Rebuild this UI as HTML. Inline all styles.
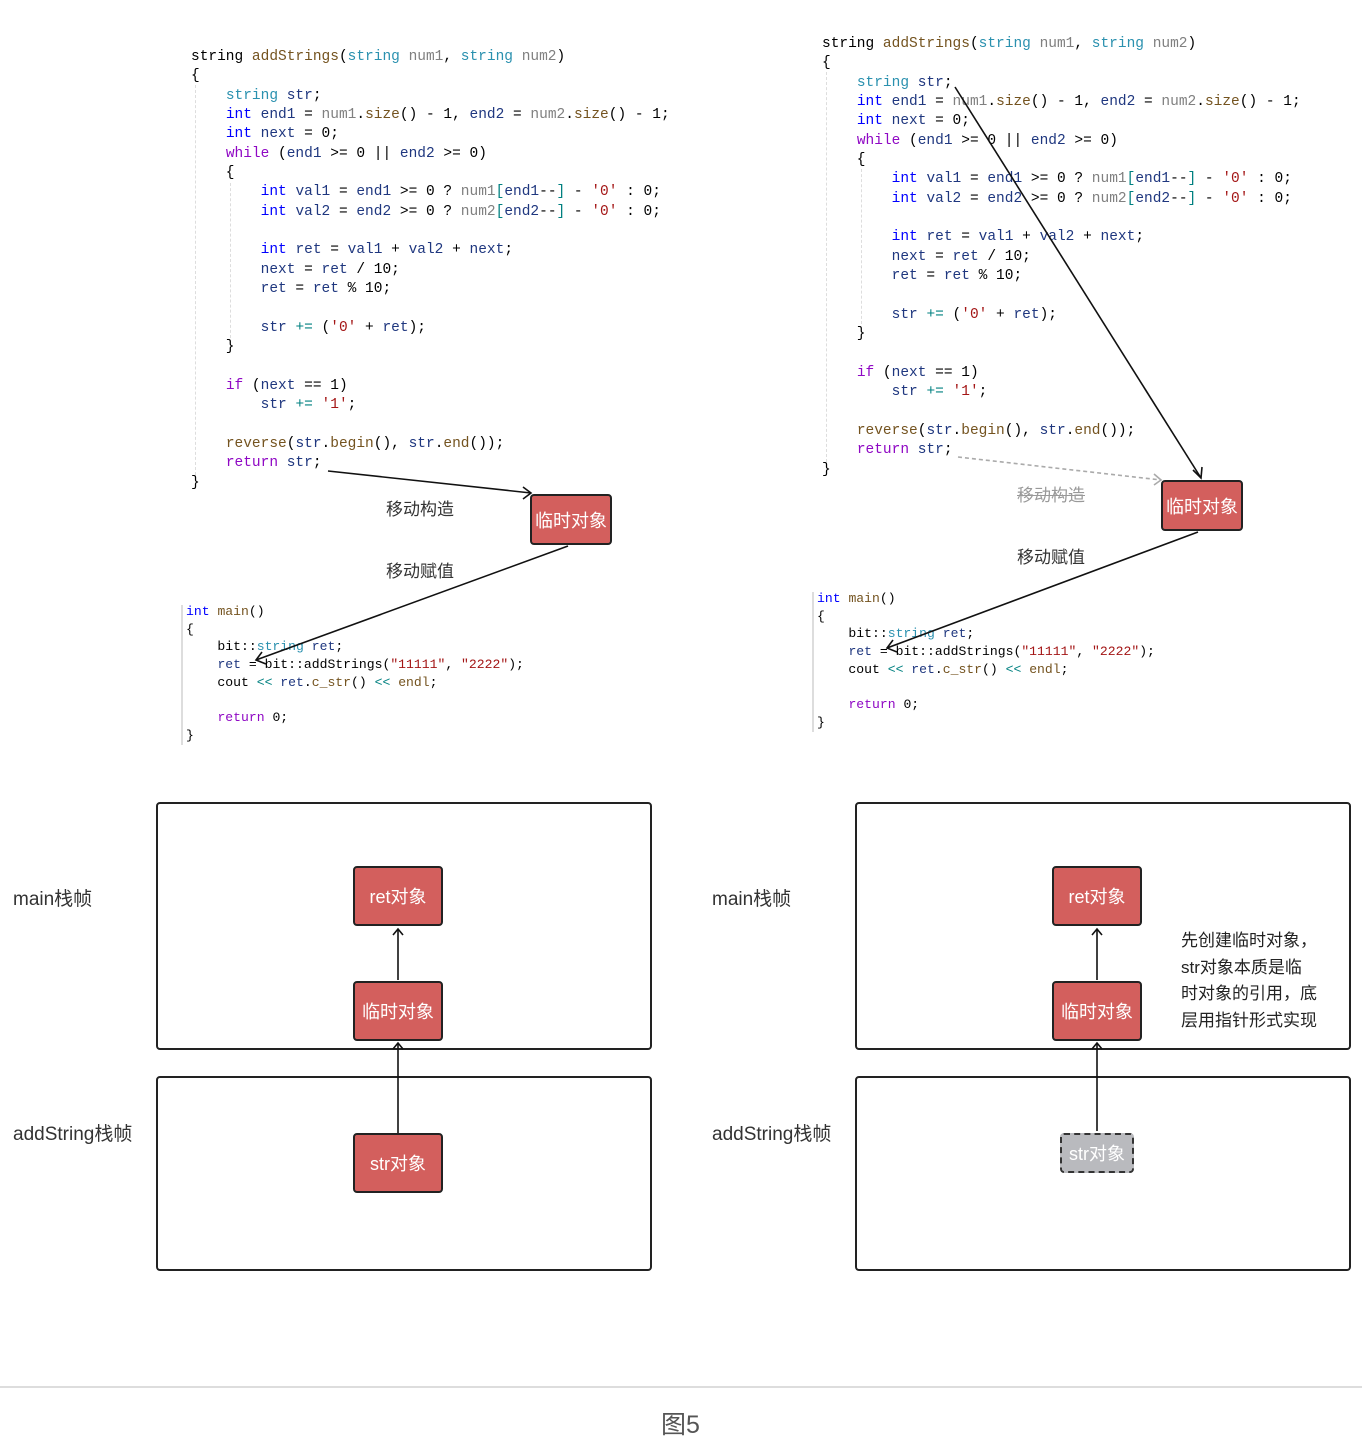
<!DOCTYPE html>
<html><head><meta charset="utf-8"><style>
body{margin:0;width:1362px;height:1442px;background:#fff;position:relative;overflow:hidden;font-family:"Liberation Sans","Noto Sans CJK SC",sans-serif}
pre{margin:0;position:absolute;font-family:"Liberation Mono",monospace;color:#000}
.f{font-size:14.5px;line-height:19.35px}
.m{font-size:13.1px;line-height:17.7px}
.t{color:#2b91af}.k{color:#0000ff}.c{color:#8f08c4}.fn{color:#74531f}.p{color:#808080}.s{color:#a31515}.v{color:#1f377f}.o{color:#008080}
.box{position:absolute;background:#d35f5d;border:2px solid #222;border-radius:4px;box-sizing:border-box;color:#fff;font-size:18px;display:flex;align-items:center;justify-content:center;font-family:"Liberation Sans","Noto Sans CJK SC",sans-serif}
.frame{position:absolute;border:2px solid #222;border-radius:4px;box-sizing:border-box}
.lbl{position:absolute;font-size:19px;color:#333;white-space:nowrap}
.guide{position:absolute;border-left:1px dashed #ddd}
.mg{position:absolute;border-left:2px solid #ddd}
</style></head><body>

<pre class="f" style="left:191px;top:48px"><span>string</span> <span class="fn">addStrings</span>(<span class="t">string</span> <span class="p">num1</span>, <span class="t">string</span> <span class="p">num2</span>)
{
    <span class="t">string</span> <span class="v">str</span>;
    <span class="k">int</span> <span class="v">end1</span> = <span class="p">num1</span>.<span class="fn">size</span>() - 1, <span class="v">end2</span> = <span class="p">num2</span>.<span class="fn">size</span>() - 1;
    <span class="k">int</span> <span class="v">next</span> = 0;
    <span class="c">while</span> (<span class="v">end1</span> &gt;= 0 || <span class="v">end2</span> &gt;= 0)
    {
        <span class="k">int</span> <span class="v">val1</span> = <span class="v">end1</span> &gt;= 0 ? <span class="p">num1</span><span class="o">[</span><span class="v">end1</span>--<span class="o">]</span> - <span class="s">'0'</span> : 0;
        <span class="k">int</span> <span class="v">val2</span> = <span class="v">end2</span> &gt;= 0 ? <span class="p">num2</span><span class="o">[</span><span class="v">end2</span>--<span class="o">]</span> - <span class="s">'0'</span> : 0;

        <span class="k">int</span> <span class="v">ret</span> = <span class="v">val1</span> + <span class="v">val2</span> + <span class="v">next</span>;
        <span class="v">next</span> = <span class="v">ret</span> / 10;
        <span class="v">ret</span> = <span class="v">ret</span> % 10;

        <span class="v">str</span> <span class="o">+=</span> (<span class="s">'0'</span> + <span class="v">ret</span>);
    }

    <span class="c">if</span> (<span class="v">next</span> == 1)
        <span class="v">str</span> <span class="o">+=</span> <span class="s">'1'</span>;

    <span class="fn">reverse</span>(<span class="v">str</span>.<span class="fn">begin</span>(), <span class="v">str</span>.<span class="fn">end</span>());
    <span class="c">return</span> <span class="v">str</span>;
}</pre>

<pre class="f" style="left:822px;top:35px"><span>string</span> <span class="fn">addStrings</span>(<span class="t">string</span> <span class="p">num1</span>, <span class="t">string</span> <span class="p">num2</span>)
{
    <span class="t">string</span> <span class="v">str</span>;
    <span class="k">int</span> <span class="v">end1</span> = <span class="p">num1</span>.<span class="fn">size</span>() - 1, <span class="v">end2</span> = <span class="p">num2</span>.<span class="fn">size</span>() - 1;
    <span class="k">int</span> <span class="v">next</span> = 0;
    <span class="c">while</span> (<span class="v">end1</span> &gt;= 0 || <span class="v">end2</span> &gt;= 0)
    {
        <span class="k">int</span> <span class="v">val1</span> = <span class="v">end1</span> &gt;= 0 ? <span class="p">num1</span><span class="o">[</span><span class="v">end1</span>--<span class="o">]</span> - <span class="s">'0'</span> : 0;
        <span class="k">int</span> <span class="v">val2</span> = <span class="v">end2</span> &gt;= 0 ? <span class="p">num2</span><span class="o">[</span><span class="v">end2</span>--<span class="o">]</span> - <span class="s">'0'</span> : 0;

        <span class="k">int</span> <span class="v">ret</span> = <span class="v">val1</span> + <span class="v">val2</span> + <span class="v">next</span>;
        <span class="v">next</span> = <span class="v">ret</span> / 10;
        <span class="v">ret</span> = <span class="v">ret</span> % 10;

        <span class="v">str</span> <span class="o">+=</span> (<span class="s">'0'</span> + <span class="v">ret</span>);
    }

    <span class="c">if</span> (<span class="v">next</span> == 1)
        <span class="v">str</span> <span class="o">+=</span> <span class="s">'1'</span>;

    <span class="fn">reverse</span>(<span class="v">str</span>.<span class="fn">begin</span>(), <span class="v">str</span>.<span class="fn">end</span>());
    <span class="c">return</span> <span class="v">str</span>;
}</pre>

<div class="guide" style="left:195px;top:85px;height:390px"></div>
<div class="guide" style="left:230px;top:183px;height:155px"></div>
<div class="guide" style="left:826px;top:72px;height:390px"></div>
<div class="guide" style="left:861px;top:169px;height:155px"></div>

<pre class="m" style="left:186px;top:603px"><span class="k">int</span> <span class="fn">main</span>()
{
    bit::<span class="t">string</span> <span class="v">ret</span>;
    <span class="v">ret</span> = bit::addStrings(<span class="s">"11111"</span>, <span class="s">"2222"</span>);
    cout <span class="o">&lt;&lt;</span> <span class="v">ret</span>.<span class="fn">c_str</span>() <span class="o">&lt;&lt;</span> <span class="fn">endl</span>;

    <span class="c">return</span> 0;
}</pre>
<div class="mg" style="left:181px;top:605px;height:140px"></div>

<pre class="m" style="left:817px;top:590px"><span class="k">int</span> <span class="fn">main</span>()
{
    bit::<span class="t">string</span> <span class="v">ret</span>;
    <span class="v">ret</span> = bit::addStrings(<span class="s">"11111"</span>, <span class="s">"2222"</span>);
    cout <span class="o">&lt;&lt;</span> <span class="v">ret</span>.<span class="fn">c_str</span>() <span class="o">&lt;&lt;</span> <span class="fn">endl</span>;

    <span class="c">return</span> 0;
}</pre>
<div class="mg" style="left:812px;top:592px;height:140px"></div>

<div class="box" style="left:530px;top:494px;width:82px;height:51px">临时对象</div>
<div class="box" style="left:1161px;top:480px;width:82px;height:51px">临时对象</div>

<div class="lbl" style="left:386px;top:495px;font-size:17px">移动构造</div>
<div class="lbl" style="left:386px;top:557px;font-size:17px">移动赋值</div>
<div class="lbl" style="left:1017px;top:481px;font-size:17px;color:#999;text-decoration:line-through">移动构造</div>
<div class="lbl" style="left:1017px;top:543px;font-size:17px">移动赋值</div>

<div class="frame" style="left:156px;top:802px;width:496px;height:248px"></div>
<div class="frame" style="left:156px;top:1076px;width:496px;height:195px"></div>
<div class="frame" style="left:855px;top:802px;width:496px;height:248px"></div>
<div class="frame" style="left:855px;top:1076px;width:496px;height:195px"></div>

<div class="lbl" style="left:13px;top:884px">main栈帧</div>
<div class="lbl" style="left:13px;top:1119px">addString栈帧</div>
<div class="lbl" style="left:712px;top:884px">main栈帧</div>
<div class="lbl" style="left:712px;top:1119px">addString栈帧</div>

<div class="box" style="left:353px;top:866px;width:90px;height:60px">ret对象</div>
<div class="box" style="left:353px;top:981px;width:90px;height:60px">临时对象</div>
<div class="box" style="left:353px;top:1133px;width:90px;height:60px">str对象</div>
<div class="box" style="left:1052px;top:866px;width:90px;height:60px">ret对象</div>
<div class="box" style="left:1052px;top:981px;width:90px;height:60px">临时对象</div>
<div class="box" style="left:1060px;top:1133px;width:74px;height:40px;background:#b9babe;border:2px dashed #333">str对象</div>

<div class="lbl" style="left:1181px;top:928px;font-size:17px;line-height:26.5px;color:#222">先创建临时对象，<br>str对象本质是临<br>时对象的引用，底<br>层用指针形式实现</div>

<svg width="1362" height="1442" style="position:absolute;left:0;top:0" fill="none" stroke="#111" stroke-width="1.6">
<line x1="328" y1="471" x2="531" y2="493"/><polyline points="523,487 531,493 523,499"/>
<line x1="568" y1="546" x2="256" y2="660"/><polyline points="262,652 256,660 266,664"/>
<line x1="955" y1="87" x2="1201" y2="478"/><polyline points="1193,470 1201,478 1202,467"/>
<line x1="958" y1="457" x2="1161" y2="480" stroke="#aaa" stroke-dasharray="4,3"/><polyline points="1154,474 1161,480 1154,485" stroke="#aaa"/>
<line x1="1198" y1="532" x2="887" y2="648"/><polyline points="893,640 887,648 897,652"/>
<line x1="398" y1="980" x2="398" y2="929"/><polyline points="393,935 398,929 403,935"/>
<line x1="398" y1="1133" x2="398" y2="1043"/><polyline points="393,1049 398,1043 403,1049"/>
<line x1="1097" y1="980" x2="1097" y2="929"/><polyline points="1092,935 1097,929 1102,935"/>
<line x1="1097" y1="1131" x2="1097" y2="1043"/><polyline points="1092,1049 1097,1043 1102,1049"/>
<line x1="0" y1="1387" x2="1362" y2="1387" stroke="#ddd" stroke-width="2"/>
</svg>
<div class="lbl" style="left:661px;top:1405px;font-size:25px;color:#555">图5</div>
</body></html>
